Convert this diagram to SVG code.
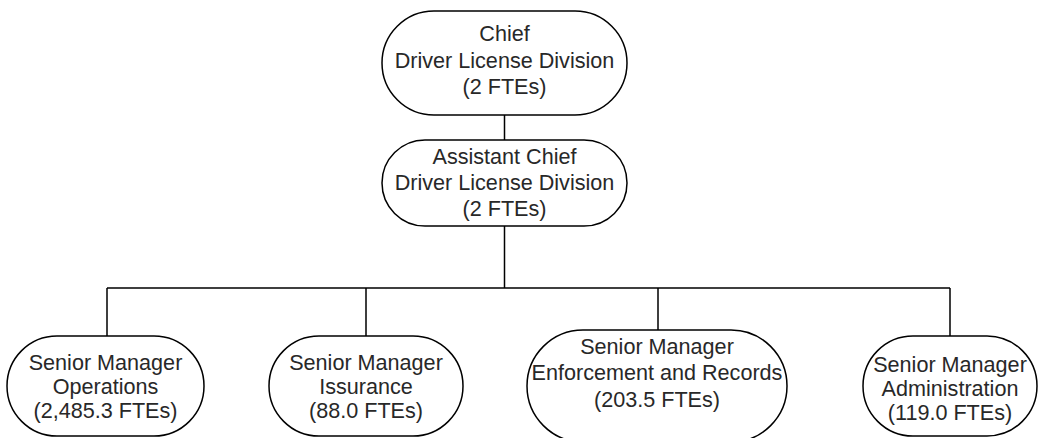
<svg xmlns="http://www.w3.org/2000/svg" width="1039" height="438" viewBox="0 0 1039 438">
<style>
.n{fill:#fff;stroke:#000;stroke-width:1.5}
.t{font-family:"Liberation Sans",Arial,sans-serif;font-size:21.6px;fill:#282828;text-anchor:middle}
.c{fill:none;stroke:#000;stroke-width:1.5}
</style>
<rect width="1039" height="438" fill="#fff"/>
<g id="connectors">
<path class="c" d="M504.5 115V140M504.5 226V288M107 288H950M107 288V336M366 288V336M658 288V330M950 288V336"/>
</g>
<g id="chief">
<rect class="n" x="382" y="11" width="245" height="104" rx="52"/>
<text class="t" x="504.5" y="41">Chief</text>
<text class="t" x="504.5" y="68">Driver License Division</text>
<text class="t" x="504.5" y="94">(2 FTEs)</text>
</g>
<g id="assistant">
<rect class="n" x="382" y="140" width="245" height="86" rx="43"/>
<text class="t" x="504.5" y="164">Assistant Chief</text>
<text class="t" x="504.5" y="190">Driver License Division</text>
<text class="t" x="504.5" y="216">(2 FTEs)</text>
</g>
<g id="operations">
<rect class="n" x="7" y="336" width="197" height="100" rx="50"/>
<text class="t" x="105.5" y="370">Senior Manager</text>
<text class="t" x="105.5" y="394">Operations</text>
<text class="t" x="105.5" y="418">(2,485.3 FTEs)</text>
</g>
<g id="issurance">
<rect class="n" x="269" y="336" width="194" height="100" rx="50"/>
<text class="t" x="366" y="370">Senior Manager</text>
<text class="t" x="366" y="394">Issurance</text>
<text class="t" x="366" y="418">(88.0 FTEs)</text>
</g>
<g id="enforcement">
<rect class="n" x="527" y="330" width="260" height="112" rx="56"/>
<text class="t" x="657" y="354">Senior Manager</text>
<text class="t" x="657" y="380">Enforcement and Records</text>
<text class="t" x="657" y="407">(203.5 FTEs)</text>
</g>
<g id="administration">
<rect class="n" x="863" y="336" width="174" height="100" rx="50"/>
<text class="t" x="950" y="372">Senior Manager</text>
<text class="t" x="950" y="396">Administration</text>
<text class="t" x="950" y="420">(119.0 FTEs)</text>
</g>
</svg>
